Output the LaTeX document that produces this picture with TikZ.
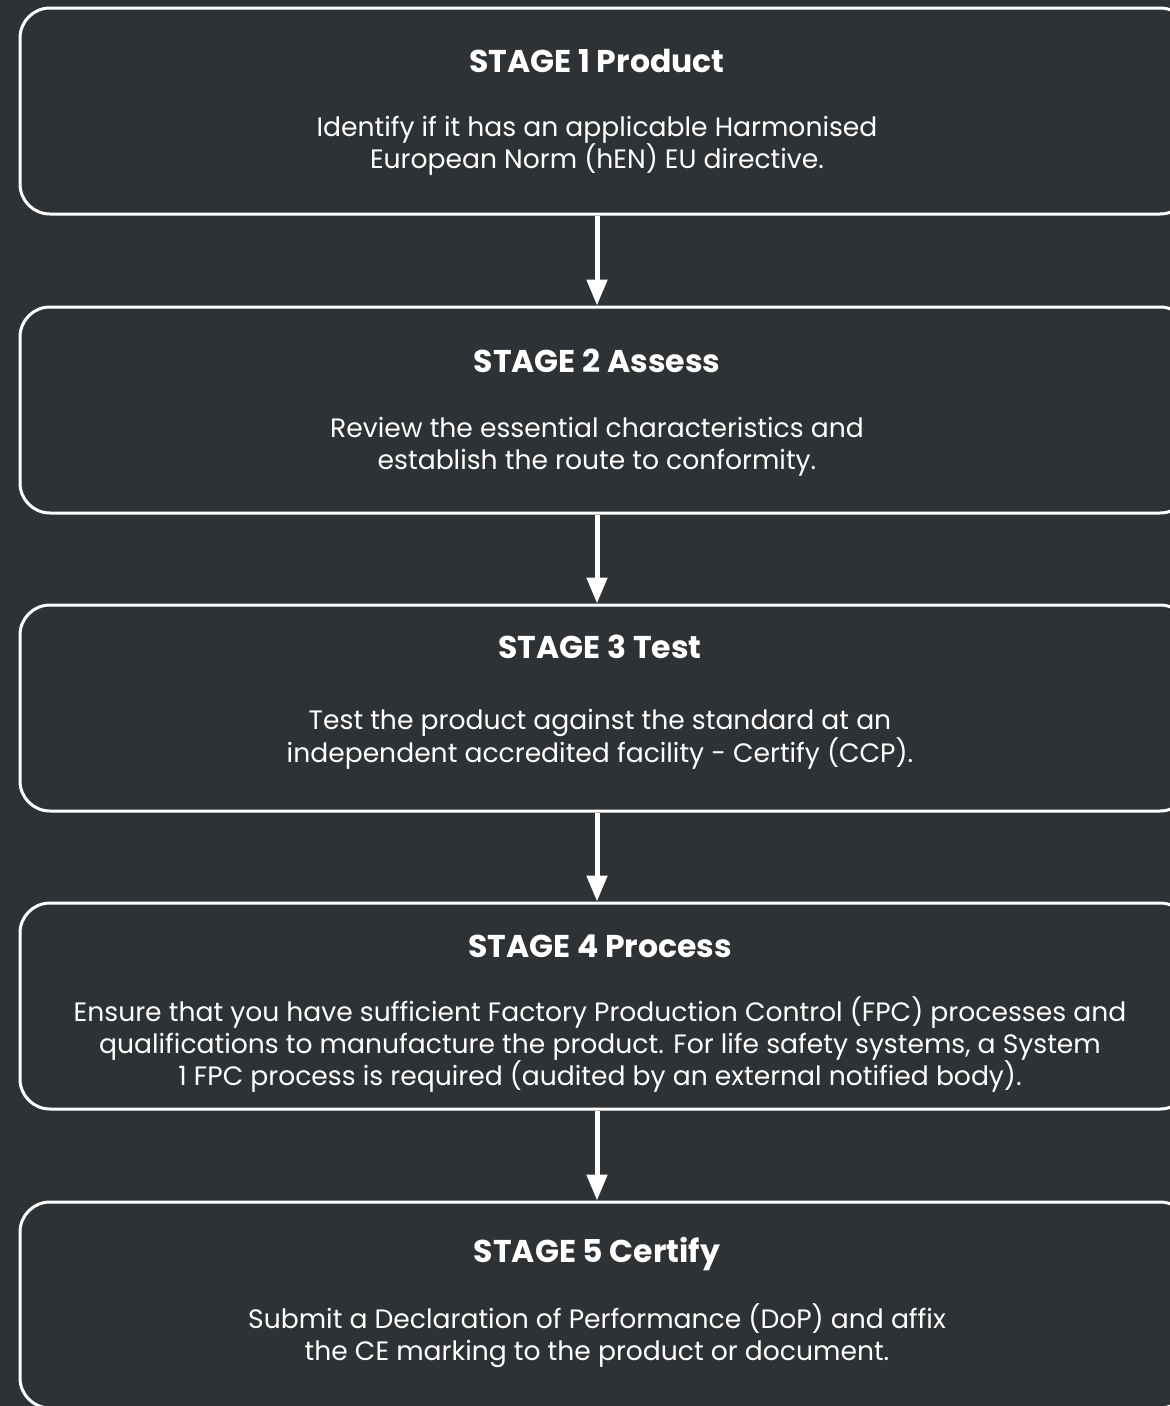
\documentclass[tikz,border=0pt]{standalone}
\usepackage{fontspec}
\setmainfont{Poppins}
\usetikzlibrary{arrows.meta}
\definecolor{slate}{RGB}{46,50,53}

\begin{document}
\begin{tikzpicture}[x=1pt,y=-1pt,
  stagebox/.style={draw=white,line width=3pt,rounded corners=30pt,minimum width=1170pt,minimum height=206pt,inner sep=0pt},
  stagetitle/.style={text=white,font=\fontsize{31.5}{36}\selectfont\bfseries},
  stagetext/.style={text=white,font=\fontsize{26.6}{32}\selectfont,align=center},
  flow/.style={white,line width=5pt,-{Triangle[width=20pt,length=26pt]}}]
\fill[slate] (0,0) rectangle (1170,1406);
\useasboundingbox (0,0) rectangle (1170,1406);
\clip (0,0) rectangle (1170,1406);
\node[stagebox] (s1) at (605,111) {};
\node[stagetitle] (t1) at (597,61) {STAGE 1 Product};
\node[stagetext] (d1) at (597,146) {Identify if it has an applicable Harmonised\\European Norm (hEN) EU directive.};
\node[stagebox] (s2) at (605,410) {};
\node[stagetitle] (t2) at (597,361) {STAGE 2 Assess};
\node[stagetext] (d2) at (597,447) {Review the essential characteristics and\\establish the route to conformity.};
\node[stagebox] (s3) at (605,708) {};
\node[stagetitle] (t3) at (600,647) {STAGE 3 Test};
\node[stagetext] (d3) at (600,739) {Test the product against the standard at an\\independent accredited facility - Certify (CCP).};
\node[stagebox] (s4) at (605,1006) {};
\node[stagetitle] (t4) at (600,946) {STAGE 4 Process};
\node[stagetext] (d4) at (600,1045) {Ensure that you have sufficient Factory Production Control (FPC) processes and\\qualifications to manufacture the product. For life safety systems, a System\\1 FPC process is required (audited by an external notified body).};
\node[stagebox] (s5) at (605,1305) {};
\node[stagetitle] (t5) at (597,1254) {STAGE 5 Certify};
\node[stagetext] (d5) at (597,1336) {Submit a Declaration of Performance (DoP) and affix\\the CE marking to the product or document.};
\draw[flow] (s1.south -| t1) -- (s2.north -| t1);
\draw[flow] (s2.south -| t1) -- (s3.north -| t1);
\draw[flow] (s3.south -| t1) -- (s4.north -| t1);
\draw[flow] (s4.south -| t1) -- (s5.north -| t1);
\end{tikzpicture}
\end{document}
